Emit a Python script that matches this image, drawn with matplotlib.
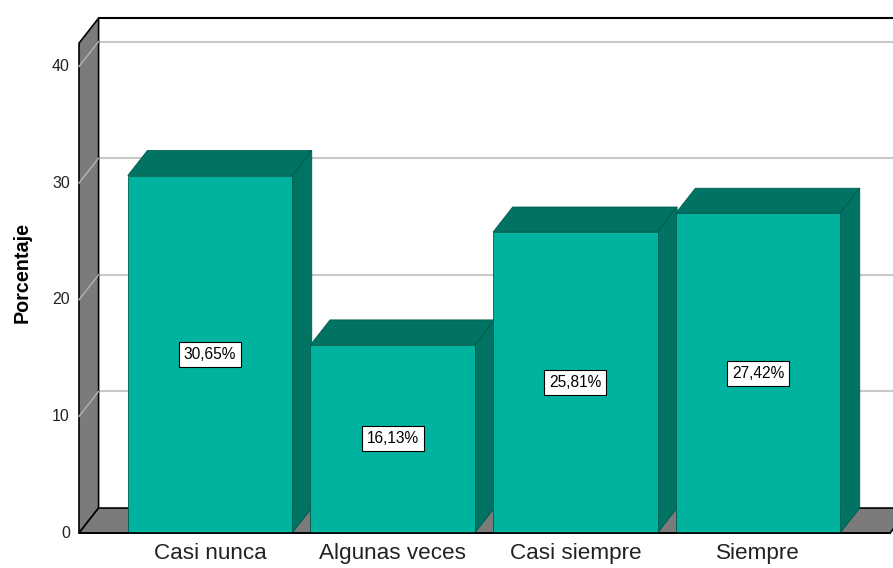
import matplotlib.pyplot as plt
from matplotlib.patches import Polygon

plt.rcParams['font.family'] = ['Liberation Sans', 'DejaVu Sans']

categorias = ["Casi nunca", "Algunas veces", "Casi siempre", "Siempre"]
porcentajes = [30.65, 16.13, 25.81, 27.42]
ticks_y = [0, 10, 20, 30, 40]

frente = "#00b39f"
oscuro = "#007363"
borde = "#005a4d"
gris = "#7b7b7b"

fig = plt.figure(figsize=(8.93, 5.68), dpi=100)
ax = fig.add_axes([0, 0, 1, 1])
ax.set_xlim(-1.1496, 3.739)
ax.set_ylim(-3.0, 45.70)
ax.axis("off")

ancho = 0.9
dx = 0.107
dy = 2.14
x_izq = -0.717
x_der = 3.723
y_tope = 42.0

# pared izquierda
ax.add_patch(Polygon([(x_izq, 0), (x_izq, y_tope), (x_izq + dx, y_tope + dy), (x_izq + dx, dy)],
                     closed=True, fc=gris, ec="black", lw=1.2, zorder=1))
# suelo
ax.add_patch(Polygon([(x_izq, 0), (x_der, 0), (x_der + dx, dy), (x_izq + dx, dy)],
                     closed=True, fc=gris, ec="black", lw=1.2, zorder=1))
# borde superior de la pared del fondo
ax.plot([x_izq + dx, 3.8], [y_tope + dy, y_tope + dy], color="black", lw=1.5, zorder=1)

# lineas de cuadricula
for t in ticks_y[1:]:
    ax.plot([x_izq + dx, 3.8], [t + dy, t + dy], color="#c8c8c8", lw=1.5, zorder=0.5)
    ax.plot([x_izq, x_izq + dx], [t, t + dy], color="#b4b4b4", lw=1.0, zorder=2)
for t in ticks_y:
    ax.text(x_izq - 0.05, t, str(t), ha="right", va="center", fontsize=11.5, color="#222222")

# barras 3D
for i, v in enumerate(porcentajes):
    x0 = i - ancho / 2
    x1 = i + ancho / 2
    ax.add_patch(Polygon([(x0, v), (x0 + dx, v + dy), (x1 + dx, v + dy), (x1, v)],
                         closed=True, fc=oscuro, ec=borde, lw=0.6, zorder=3 + i))
    ax.add_patch(Polygon([(x1, 0), (x1, v), (x1 + dx, v + dy), (x1 + dx, dy)],
                         closed=True, fc=oscuro, ec=borde, lw=0.6, zorder=3 + i))
    ax.bar(i, v, width=ancho, color=frente, edgecolor=borde, lw=0.6, zorder=3.5 + i)
    etiqueta = f"{v:.2f}".replace(".", ",") + "%"
    ax.text(i, v / 2, etiqueta, ha="center", va="center", fontsize=11.2, zorder=10,
            bbox=dict(boxstyle="square,pad=0.32", fc="white", ec="black", lw=0.8))
    ax.text(i, -0.85, categorias[i], ha="center", va="top", fontsize=16.2, color="#222222")

# linea frontal del suelo
ax.plot([x_izq, x_der], [0, 0], color="black", lw=1.2, zorder=20)

ax.text(-1.029, 22.3, "Porcentaje", rotation=90, ha="center", va="center",
        fontsize=14.2, fontweight="bold")

fig.savefig("out.png", dpi=100)
